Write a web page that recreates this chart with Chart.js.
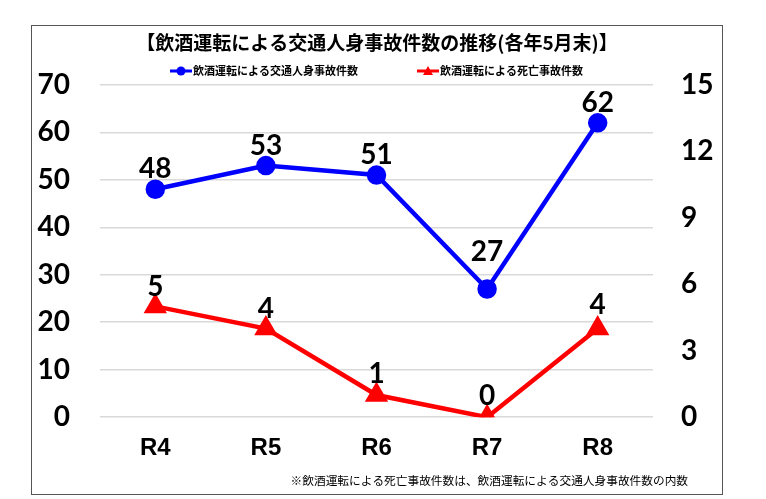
<!DOCTYPE html>
<html lang="ja">
<head>
<meta charset="utf-8">
<title>飲酒運転による交通人身事故件数の推移</title>
<script src="https://cdn.jsdelivr.net/npm/chart.js@4.4.1/dist/chart.umd.min.js"></script>
<style>
  html, body { margin: 0; padding: 0; background: #fff; }
  #frame {
    position: absolute; left: 31px; top: 25px;
    width: 690px; height: 468px;
    border: 1px solid #555;
  }
</style>
</head>
<body>
<div id="frame"><canvas id="drunkChart"></canvas></div>
<script>
// data
const categories = ['R4', 'R5', 'R6', 'R7', 'R8'];
const injuryAccidents = [48, 53, 51, 27, 62];   // 飲酒運転による交通人身事故件数
const fatalAccidents = [5, 4, 1, 0, 4];          // 飲酒運転による死亡事故件数
const leftTicks = [0, 10, 20, 30, 40, 50, 60, 70];
const rightTicks = [0, 3, 6, 9, 12, 15];

// how far each value label sits above its point (px), per series
const labelLift = [[20, 20, 20, 37, 20], [19, 20, 21, 21, 24]];

const titleText = '【飲酒運転による交通人身事故件数の推移(各年5月末)】';
const noteText = '※飲酒運転による死亡事故件数は、飲酒運転による交通人身事故件数の内数';

const jpFont = '"Noto Sans CJK JP", "Noto Sans", sans-serif';
const numFont = 'Lato, "Liberation Sans", sans-serif';

// small line+marker icon for the legend
function legendIcon(ctx, x, y, color, shape) {
  ctx.save();
  ctx.strokeStyle = color;
  ctx.fillStyle = color;
  ctx.lineWidth = 3;
  ctx.beginPath();
  ctx.moveTo(x, y);
  ctx.lineTo(x + 22, y);
  ctx.stroke();
  ctx.beginPath();
  if (shape === 'triangle') {
    ctx.moveTo(x + 11, y - 5);
    ctx.lineTo(x + 16, y + 4);
    ctx.lineTo(x + 6, y + 4);
    ctx.closePath();
  } else {
    ctx.arc(x + 11, y, 4.5, 0, Math.PI * 2);
  }
  ctx.fill();
  ctx.restore();
}

// vertical axes should not push the plot area around
function noPad(axis, width) {
  axis.width = width;
  axis.paddingTop = 0;
  axis.paddingBottom = 0;
}

const extras = {
  id: 'extras',
  afterDatasetsDraw(chart) {
    const ctx = chart.ctx;

    // value labels above each point
    ctx.save();
    ctx.font = 'bold 28px ' + numFont;
    ctx.fillStyle = '#000';
    ctx.textAlign = 'center';
    ctx.textBaseline = 'middle';
    chart.data.datasets.forEach((ds, i) => {
      chart.getDatasetMeta(i).data.forEach((pt, j) => {
        ctx.fillText(String(ds.data[j]), pt.x, pt.y - labelLift[i][j]);
      });
    });
    ctx.restore();

    // legend
    ctx.save();
    ctx.font = 'bold 11px ' + jpFont;
    ctx.textBaseline = 'middle';
    ctx.fillStyle = '#000';
    const items = chart.data.datasets.map(ds => ({
      label: ds.label, color: ds.borderColor, shape: ds.pointStyle,
      w: 24 + ctx.measureText(ds.label).width
    }));
    const gap = 58;
    const total = items.reduce((s, it) => s + it.w, 0) + gap * (items.length - 1);
    let x = chart.width / 2 - total / 2;
    const y = 45;
    items.forEach(it => {
      legendIcon(ctx, x, y, it.color, it.shape);
      ctx.fillText(it.label, x + 23, y);
      x += it.w + gap;
    });
    ctx.restore();

    // footnote
    ctx.save();
    ctx.font = '11.7px ' + jpFont;
    ctx.fillStyle = '#000';
    ctx.textAlign = 'right';
    ctx.textBaseline = 'middle';
    ctx.fillText(noteText, chart.width - 34, chart.height - 13);
    ctx.restore();
  }
};

const ctx = document.getElementById('drunkChart').getContext('2d');
const chart = new Chart(ctx, {
  type: 'line',
  data: {
    labels: categories,
    datasets: [
      {
        label: '飲酒運転による交通人身事故件数',
        data: injuryAccidents,
        yAxisID: 'y',
        borderColor: '#0000ff',
        backgroundColor: '#0000ff',
        borderWidth: 4.5,
        pointStyle: 'circle',
        pointRadius: 7.5,
        pointHoverRadius: 7.5,
        tension: 0
      },
      {
        label: '飲酒運転による死亡事故件数',
        data: fatalAccidents,
        yAxisID: 'y1',
        borderColor: '#ff0000',
        backgroundColor: '#ff0000',
        borderWidth: 4.5,
        pointStyle: 'triangle',
        pointRadius: 9,
        pointHoverRadius: 9,
        tension: 0
      }
    ]
  },
  options: {
    responsive: true,
    maintainAspectRatio: false,
    animation: false,
    events: [],
    layout: { padding: { bottom: 14 } },
    plugins: {
      legend: { display: false },
      tooltip: { enabled: false },
      title: {
        display: true,
        text: titleText,
        color: '#000',
        font: { family: jpFont, size: 19, weight: 'bold' },
        padding: { top: 5, bottom: 31 }
      }
    },
    scales: {
      x: {
        offset: true,
        grid: { display: false, drawTicks: false },
        border: { display: false },
        ticks: {
          color: '#000',
          padding: 17,
          font: { family: '"Liberation Sans", Arial, sans-serif', size: 24, weight: 'bold' }
        }
      },
      y: {
        position: 'left',
        min: leftTicks[0],
        max: leftTicks[leftTicks.length - 1],
        afterBuildTicks: axis => { axis.ticks = leftTicks.map(v => ({ value: v })); },
        afterFit: axis => noPad(axis, 68),
        grid: { color: '#d9d9d9', lineWidth: 1.5, drawTicks: false },
        border: { display: false },
        ticks: {
          color: '#000',
          padding: 30,
          font: { family: numFont, size: 28, weight: 'bold' }
        }
      },
      y1: {
        position: 'right',
        min: rightTicks[0],
        max: rightTicks[rightTicks.length - 1],
        afterBuildTicks: axis => { axis.ticks = rightTicks.map(v => ({ value: v })); },
        afterFit: axis => noPad(axis, 69),
        grid: { display: false, drawTicks: false },
        border: { display: false },
        ticks: {
          color: '#000',
          padding: 28,
          font: { family: numFont, size: 28, weight: 'bold' }
        }
      }
    }
  },
  plugins: [extras]
});
</script>
</body>
</html>
